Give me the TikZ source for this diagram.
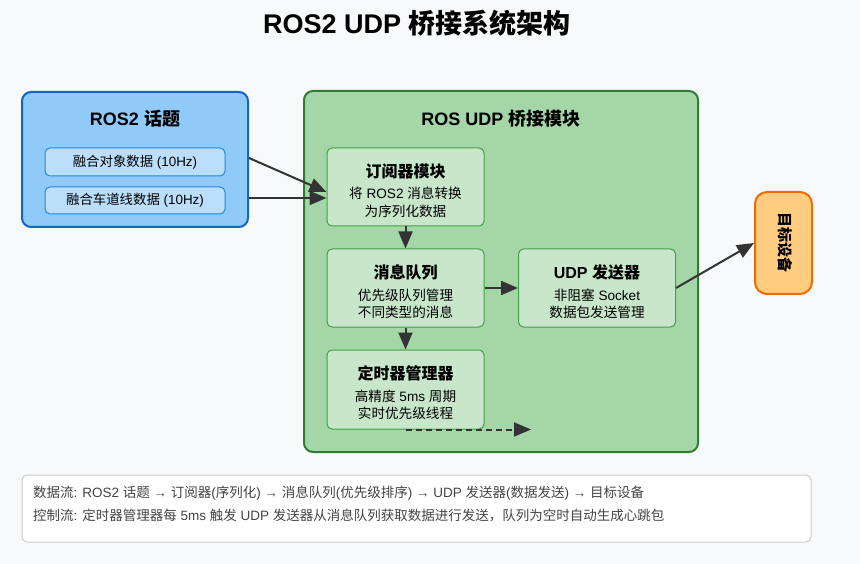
\documentclass[tikz,border=0pt]{standalone}
\usepackage{fontspec}
\setmainfont{Liberation Sans}
\newfontfamily\cjk{Noto Sans CJK SC}
\usetikzlibrary{arrows.meta}
% automatic switch to the CJK font for ideographs
\XeTeXinterchartokenstate=1
\newXeTeXintercharclass\CJKcls
\count255="4E00
\loop
  \XeTeXcharclass\count255=\CJKcls
  \ifnum\count255<"9FFF \advance\count255 by 1 \repeat
\XeTeXcharclass"FF0C=\CJKcls
\XeTeXinterchartoks 0 \CJKcls = {\begingroup\cjk}
\XeTeXinterchartoks 4095 \CJKcls = {\begingroup\cjk}
\XeTeXinterchartoks \CJKcls 0 = {\endgroup}
\XeTeXinterchartoks \CJKcls 4095 = {\endgroup}
\definecolor{bgc}{HTML}{F8F9FA}
\definecolor{blueF}{HTML}{90CAF9}
\definecolor{blueD}{HTML}{1565C0}
\definecolor{blueL}{HTML}{BBDEFB}
\definecolor{blueM}{HTML}{1E88E5}
\definecolor{greenF}{HTML}{A5D6A7}
\definecolor{greenD}{HTML}{2E7D32}
\definecolor{greenL}{HTML}{C8E6C9}
\definecolor{greenM}{HTML}{43A047}
\definecolor{orangeF}{HTML}{FFCC80}
\definecolor{orangeD}{HTML}{EF6C00}
\definecolor{arrowc}{HTML}{333333}
\definecolor{legendtext}{HTML}{444444}
\definecolor{legendline}{HTML}{CCCCCC}
\begin{document}
\begin{tikzpicture}[x=1pt,y=-1pt,
  bluebox/.style={draw=blueD,line width=2pt,fill=blueF,rounded corners=9pt,inner sep=0pt},
  bluesub/.style={draw=blueM,line width=1pt,fill=blueL,rounded corners=5pt,inner sep=0pt,
     font=\fontsize{13.4}{15}\selectfont},
  greenbox/.style={draw=greenD,line width=2pt,fill=greenF,rounded corners=9pt,inner sep=0pt},
  greensub/.style={draw=greenM,line width=1pt,fill=greenL,rounded corners=5pt,inner sep=0pt,
     minimum width=157pt,minimum height=78pt},
  orangebox/.style={draw=orangeD,line width=2pt,fill=orangeF,rounded corners=12pt,inner sep=0pt},
  headtext/.style={font=\bfseries\fontsize{18}{21}\selectfont,inner sep=0pt},
  subtitle/.style={font=\bfseries\fontsize{16}{19}\selectfont,inner sep=0pt},
  subbody/.style={font=\fontsize{13.6}{17.5}\selectfont,align=center,inner sep=0pt},
  arr/.style={draw=arrowc,line width=2pt,-{Triangle[length=17pt,width=14pt]}},
  legendtxt/.style={font=\fontsize{13.5}{15}\selectfont,text=legendtext,anchor=base west,inner sep=0pt}
]
\fill[bgc] (0,0) rectangle (860,564);
\useasboundingbox (0,0) rectangle (860,564);

\node[font=\bfseries\fontsize{27}{32}\selectfont,inner sep=0pt] (title) at (417,23) {ROS2 UDP 桥接系统架构};

% ROS2 topics
\node[bluebox,minimum width=226pt,minimum height=135pt] (ros) at (135,159.5) {};
\node[headtext] (rosT) at (135,119) {ROS2 话题};
\node[bluesub,minimum width=180pt,minimum height=28pt] (obj) at (135,162) {融合对象数据 (10Hz)};
\node[bluesub,minimum width=180pt,minimum height=27pt] (lane) at (135,200.5) {融合车道线数据 (10Hz)};

% bridge module
\node[greenbox,minimum width=394pt,minimum height=361pt] (bridge) at (501,271.5) {};
\node[headtext] (bridgeT) at (501,119) {ROS UDP 桥接模块};

\node[greensub] (sub) at (405.5,187) {};
\node[subtitle] (subT) at (405.5,171) {订阅器模块};
\node[subbody] (subB) at (405.5,202.5) {将 ROS2 消息转换\\为序列化数据};

\node[greensub] (queue) at (405.5,288) {};
\node[subtitle] (queueT) at (405.5,272) {消息队列};
\node[subbody] (queueB) at (405.5,304) {优先级队列管理\\不同类型的消息};

\node[greensub,minimum height=79pt] (timer) at (405.5,389.5) {};
\node[subtitle] (timerT) at (405.5,373.5) {定时器管理器};
\node[subbody] (timerB) at (405.5,405) {高精度 5ms 周期\\实时优先级线程};

\node[greensub] (udp) at (597,288) {};
\node[subtitle] (udpT) at (597,272) {UDP 发送器};
\node[subbody] (udpB) at (597,304) {非阻塞 Socket\\数据包发送管理};

% target device
\node[orangebox,minimum width=57pt,minimum height=102pt] (target) at (783.5,243) {};
\node[font=\bfseries\fontsize{15}{18}\selectfont,rotate=-90,inner sep=0pt] (targetT) at (785,243) {目标设备};

% connectors
\draw[arr] ([yshift=1.5pt]ros.east) -- ([yshift=-5pt]sub.west);
\draw[arr] ([yshift=-38.5pt]ros.east) -- ([yshift=-11pt]sub.west);
\draw[arr] (sub.south) -- (queue.north);
\draw[arr] (queue.south) -- (timer.north);
\draw[arr] (queue.east) -- (udp.west);
\draw[arr] (udp.east) -- (target.west);
\coordinate (dashend) at (531,429.5);
\draw[arr,dash pattern=on 6pt off 4pt] (timer.south) -- (dashend);

% legend
\node[draw=legendline,line width=1pt,fill=white,rounded corners=5pt,minimum width=789pt,minimum height=67pt,inner sep=0pt] (legend) at (416.5,508.5) {};
\node[legendtxt] (leg1) at (33,497) {数据流: ROS2 话题 → 订阅器(序列化) → 消息队列(优先级排序) → UDP 发送器(数据发送) → 目标设备};
\node[legendtxt] (leg2) at (33,520) {控制流: 定时器管理器每 5ms 触发 UDP 发送器从消息队列获取数据进行发送，队列为空时自动生成心跳包};
\end{tikzpicture}
\end{document}
